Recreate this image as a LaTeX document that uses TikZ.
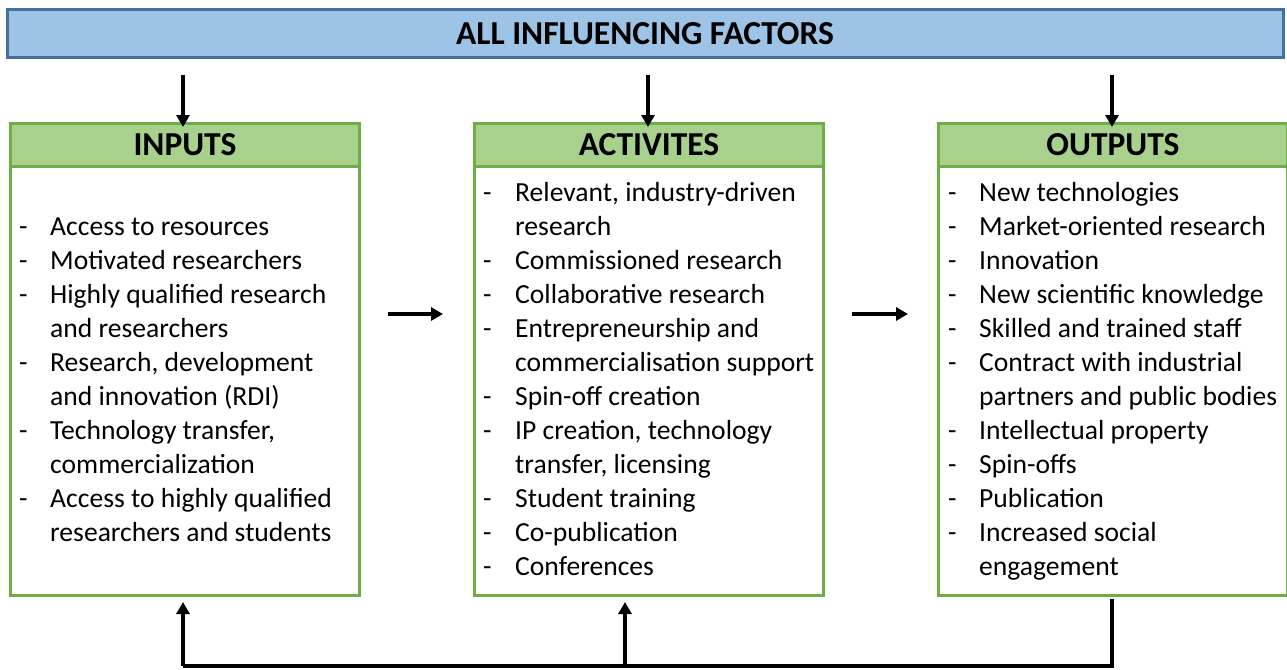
\documentclass[tikz,border=0pt]{standalone}
\usepackage{fontspec}
\setmainfont{Carlito}
\usetikzlibrary{arrows.meta}
\definecolor{barfill}{HTML}{9DC3E6}
\definecolor{barline}{HTML}{41719C}
\definecolor{hdfill}{HTML}{A9D18E}
\definecolor{hdline}{HTML}{70AD47}
\tikzset{
  bar/.style={draw=barline, fill=barfill, line width=3pt, minimum width=1276pt, minimum height=48pt, inner sep=0pt, font=\fontsize{33.5}{36}\selectfont\bfseries},
  hdbox/.style={draw=hdline, fill=hdfill, line width=3pt, minimum width=349pt, minimum height=43pt, inner sep=0pt, font=\fontsize{33.5}{36}\selectfont\bfseries},
  bodybox/.style={draw=hdline, line width=3pt, minimum width=349pt, minimum height=429pt, inner sep=0pt},
  txt/.style={anchor=west, inner sep=0pt, text height=19pt, text depth=6pt, font=\fontsize{27.6}{34}\selectfont},
  conn/.style={line width=3.4pt, -{Triangle[length=12pt,width=13pt]}},
  plain/.style={line width=3.4pt}
}
\begin{document}
\begin{tikzpicture}[x=1pt,y=-1pt]
\useasboundingbox (0,0) rectangle (1287,669);
\node[bar] (top) at (645,34) {ALL INFLUENCING FACTORS};
% boxes
\node[bodybox, anchor=north west] (inb) at (9,165) {};
\node[hdbox, anchor=north west] (inh) at (9,122) {INPUTS};
\node[bodybox, anchor=north west] (acb) at (473,165) {};
\node[hdbox, anchor=north west] (ach) at (473,122) {ACTIVITES};
\node[bodybox, anchor=north west] (oub) at (937,165) {};
\node[hdbox, anchor=north west] (ouh) at (937,122) {OUTPUTS};
% texts
\foreach \d/\t [count=\k] in {1/Access to resources, 1/Motivated researchers, 1/Highly qualified research, 0/and researchers, 1/{Research, development}, 0/and innovation (RDI), 1/{Technology transfer,}, 0/commercialization, 1/Access to highly qualified, 0/researchers and students}{
  \node[txt] (in\k) at (50,{229+34*(\k-1)}) {\t};
  \ifnum\d=1 \node[txt] (ind\k) at (19,{229+34*(\k-1)}) {-};\fi
}
\foreach \d/\t [count=\k] in {1/{Relevant, industry-driven}, 0/research, 1/Commissioned research, 1/Collaborative research, 1/Entrepreneurship and, 0/commercialisation support, 1/Spin-off creation, 1/{IP creation, technology}, 0/{transfer, licensing}, 1/Student training, 1/Co-publication, 1/Conferences}{
  \node[txt] (ac\k) at (515,{195+34*(\k-1)}) {\t};
  \ifnum\d=1 \node[txt] (acd\k) at (483,{195+34*(\k-1)}) {-};\fi
}
\foreach \d/\t [count=\k] in {1/New technologies, 1/Market-oriented research, 1/Innovation, 1/New scientific knowledge, 1/Skilled and trained staff, 1/Contract with industrial, 0/partners and public bodies, 1/Intellectual property, 1/Spin-offs, 1/Publication, 1/Increased social, 0/engagement}{
  \node[txt] (ou\k) at (979,{195+34*(\k-1)}) {\t};
  \ifnum\d=1 \node[txt] (oud\k) at (948,{195+34*(\k-1)}) {-};\fi
}
% arrows
\coordinate (a1) at (183,75);
\coordinate (a2) at (648,75);
\coordinate (a3) at (1112,75);
\draw[conn] (a1) -- ([yshift=-5pt]inh.north -| a1);
\draw[conn] (a2) -- ([yshift=-5pt]ach.north -| a2);
\draw[conn] (a3) -- ([yshift=-5pt]ouh.north -| a3);
\coordinate (h1) at (388,314);
\coordinate (h2) at (852,314);
\draw[conn] (h1) -- (443,314);
\draw[conn] (h2) -- (908,314);
\coordinate (b1) at (183,666);
\coordinate (b2) at (625,666);
\coordinate (b3) at (1112,666);
\draw[plain] (oub.south -| b3) ++(0,2) -- (b3) -- (b1);
\draw[conn] (b1) -- ([yshift=-5pt]inb.south -| b1);
\draw[conn] (b2) -- ([yshift=-5pt]acb.south -| b2);
\end{tikzpicture}
\end{document}
